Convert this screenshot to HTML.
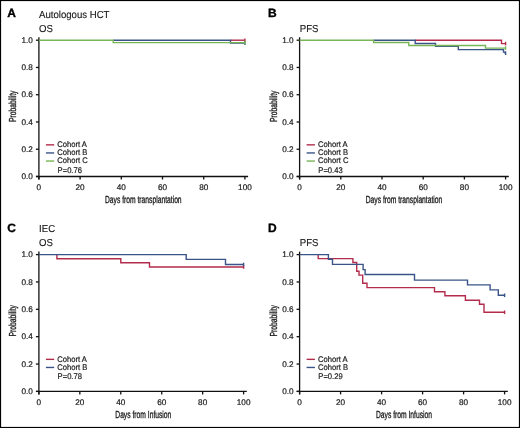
<!DOCTYPE html>
<html><head><meta charset="utf-8"><title>Figure</title>
<style>
html,body{margin:0;padding:0;background:#fff;}
#fig{position:relative;width:520px;height:428px;overflow:hidden;background:#fff;}
#fig svg{position:absolute;left:0;top:0;will-change:transform;}
text{font-family:"Liberation Sans",sans-serif;fill:#1a1a1a;text-rendering:geometricPrecision;}
.let{font-size:12px;font-weight:bold;fill:#000;stroke:#000;stroke-width:0.35px;}
.ttl{font-size:10.1px;stroke:#1a1a1a;stroke-width:0.15px;}
.tk{font-size:8.2px;stroke:#1a1a1a;stroke-width:0.2px;}
.lg{font-size:8.2px;stroke:#1a1a1a;stroke-width:0.2px;}
.at{font-size:10.2px;stroke:#1a1a1a;stroke-width:0.32px;}
.ax{stroke:#111;stroke-width:1.3;fill:none;}
</style></head>
<body><div id="fig">
<svg width="520" height="428" viewBox="0 0 520 428">
<rect x="0.5" y="0.5" width="519" height="427" fill="#fff" stroke="#000" stroke-width="1.2"/>
<text x="7.2" y="17.1" class="let">A</text>
<text x="0" y="0" class="ttl" transform="translate(39.1 17.7) scale(0.95 1)">Autologous HCT</text>
<text x="0" y="0" class="ttl" transform="translate(39.1 31.5) scale(0.95 1)">OS</text>
<path d="M38.9 37.2V179.5" class="ax"/>
<path d="M36 176.5H248.1" class="ax"/>
<path d="M35.9 176.5H38.9" class="ax"/>
<text x="0" y="0" class="tk" text-anchor="end" transform="translate(32.9 179.25)">0.0</text>
<path d="M35.9 149.24H38.9" class="ax"/>
<text x="0" y="0" class="tk" text-anchor="end" transform="translate(32.9 151.99)">0.2</text>
<path d="M35.9 121.98H38.9" class="ax"/>
<text x="0" y="0" class="tk" text-anchor="end" transform="translate(32.9 124.73)">0.4</text>
<path d="M35.9 94.72H38.9" class="ax"/>
<text x="0" y="0" class="tk" text-anchor="end" transform="translate(32.9 97.47)">0.6</text>
<path d="M35.9 67.46H38.9" class="ax"/>
<text x="0" y="0" class="tk" text-anchor="end" transform="translate(32.9 70.21)">0.8</text>
<path d="M35.9 40.2H38.9" class="ax"/>
<text x="0" y="0" class="tk" text-anchor="end" transform="translate(32.9 42.95)">1.0</text>
<path d="M38.9 176.5V179.5" class="ax"/>
<text x="0" y="0" class="tk" text-anchor="middle" transform="translate(38.9 189.7)">0</text>
<path d="M80.1 176.5V179.5" class="ax"/>
<text x="0" y="0" class="tk" text-anchor="middle" transform="translate(80.1 189.7)">20</text>
<path d="M121.3 176.5V179.5" class="ax"/>
<text x="0" y="0" class="tk" text-anchor="middle" transform="translate(121.3 189.7)">40</text>
<path d="M162.5 176.5V179.5" class="ax"/>
<text x="0" y="0" class="tk" text-anchor="middle" transform="translate(162.5 189.7)">60</text>
<path d="M203.7 176.5V179.5" class="ax"/>
<text x="0" y="0" class="tk" text-anchor="middle" transform="translate(203.7 189.7)">80</text>
<path d="M244.9 176.5V179.5" class="ax"/>
<text x="0" y="0" class="tk" text-anchor="middle" transform="translate(244.9 189.7)">100</text>
<text x="0" y="0" class="at" text-anchor="middle" transform="translate(143.3 203.4) scale(0.66 1)">Days from transplantation</text>
<text x="0" y="0" class="at" text-anchor="middle" transform="translate(16.2 106.3) rotate(-90) scale(0.66 1)">Probability</text>
<path d="M230.5 40.2H244.9" fill="none" stroke="#b32c4c" stroke-width="1.4"/>
<path d="M244.9 38.4V42" stroke="#b32c4c" stroke-width="1.4"/>
<path d="M113.2 40.2H230.5M230.5 43.1H244.9M230.5 39.5V43.8" fill="none" stroke="#3b5488" stroke-width="1.4"/>
<path d="M244.9 41.3V44.9" stroke="#3b5488" stroke-width="1.4"/>
<path d="M38.9 40.2H113.2M113.2 42.6H244.9M113.2 39.5V43.3" fill="none" stroke="#78b555" stroke-width="1.4"/>
<path d="M244.9 40.8V44.4" stroke="#78b555" stroke-width="1.4"/>
<path d="M45.9 144.85H54.2" stroke="#b32c4c" stroke-width="1.4"/>
<text x="0" y="0" class="lg" transform="translate(57.3 147.1) scale(0.93 1)">Cohort A</text>
<path d="M45.9 152.95H54.2" stroke="#3b5488" stroke-width="1.4"/>
<text x="0" y="0" class="lg" transform="translate(57.3 155.2) scale(0.93 1)">Cohort B</text>
<path d="M45.9 161.05H54.2" stroke="#78b555" stroke-width="1.4"/>
<text x="0" y="0" class="lg" transform="translate(57.3 163.3) scale(0.93 1)">Cohort C</text>
<text x="0" y="0" class="lg" transform="translate(57.6 172.5) scale(0.93 1)">P=0.76</text>
<text x="267.9" y="17.1" class="let">B</text>
<text x="0" y="0" class="ttl" transform="translate(299.8 31.5) scale(0.95 1)">PFS</text>
<path d="M299.6 37.2V179.5" class="ax"/>
<path d="M296.7 176.5H508.8" class="ax"/>
<path d="M296.6 176.5H299.6" class="ax"/>
<text x="0" y="0" class="tk" text-anchor="end" transform="translate(293.6 179.25)">0.0</text>
<path d="M296.6 149.24H299.6" class="ax"/>
<text x="0" y="0" class="tk" text-anchor="end" transform="translate(293.6 151.99)">0.2</text>
<path d="M296.6 121.98H299.6" class="ax"/>
<text x="0" y="0" class="tk" text-anchor="end" transform="translate(293.6 124.73)">0.4</text>
<path d="M296.6 94.72H299.6" class="ax"/>
<text x="0" y="0" class="tk" text-anchor="end" transform="translate(293.6 97.47)">0.6</text>
<path d="M296.6 67.46H299.6" class="ax"/>
<text x="0" y="0" class="tk" text-anchor="end" transform="translate(293.6 70.21)">0.8</text>
<path d="M296.6 40.2H299.6" class="ax"/>
<text x="0" y="0" class="tk" text-anchor="end" transform="translate(293.6 42.95)">1.0</text>
<path d="M299.6 176.5V179.5" class="ax"/>
<text x="0" y="0" class="tk" text-anchor="middle" transform="translate(299.6 189.7)">0</text>
<path d="M340.8 176.5V179.5" class="ax"/>
<text x="0" y="0" class="tk" text-anchor="middle" transform="translate(340.8 189.7)">20</text>
<path d="M382 176.5V179.5" class="ax"/>
<text x="0" y="0" class="tk" text-anchor="middle" transform="translate(382 189.7)">40</text>
<path d="M423.2 176.5V179.5" class="ax"/>
<text x="0" y="0" class="tk" text-anchor="middle" transform="translate(423.2 189.7)">60</text>
<path d="M464.4 176.5V179.5" class="ax"/>
<text x="0" y="0" class="tk" text-anchor="middle" transform="translate(464.4 189.7)">80</text>
<path d="M505.6 176.5V179.5" class="ax"/>
<text x="0" y="0" class="tk" text-anchor="middle" transform="translate(505.6 189.7)">100</text>
<text x="0" y="0" class="at" text-anchor="middle" transform="translate(404 203.4) scale(0.66 1)">Days from transplantation</text>
<text x="0" y="0" class="at" text-anchor="middle" transform="translate(276.9 106.3) rotate(-90) scale(0.66 1)">Probability</text>
<path d="M415.2 40.2H501.5M501.5 43.6H505.6M501.5 39.5V44.3" fill="none" stroke="#b32c4c" stroke-width="1.4"/>
<path d="M505.6 41.8V45.4" stroke="#b32c4c" stroke-width="1.4"/>
<path d="M373.6 40.2H415.2M415.2 43.5H435.5M435.5 46.2H458.3M458.3 49.6H503.5M503.5 52.1H505.3M505.3 53.2H505.6M415.2 39.5V44.2M435.5 42.8V46.9M458.3 45.5V50.3M503.5 48.9V52.8M505.3 51.4V53.9" fill="none" stroke="#3b5488" stroke-width="1.4"/>
<path d="M505.6 51.4V55" stroke="#3b5488" stroke-width="1.4"/>
<path d="M299.6 40.2H373.6M373.6 42.5H408.8M408.8 45.5H485.5M485.5 48.1H505.6M373.6 39.5V43.2M408.8 41.8V46.2M485.5 44.8V48.8" fill="none" stroke="#78b555" stroke-width="1.4"/>
<path d="M505.6 46.3V49.9" stroke="#78b555" stroke-width="1.4"/>
<path d="M306.6 144.85H314.9" stroke="#b32c4c" stroke-width="1.4"/>
<text x="0" y="0" class="lg" transform="translate(318 147.1) scale(0.93 1)">Cohort A</text>
<path d="M306.6 152.95H314.9" stroke="#3b5488" stroke-width="1.4"/>
<text x="0" y="0" class="lg" transform="translate(318 155.2) scale(0.93 1)">Cohort B</text>
<path d="M306.6 161.05H314.9" stroke="#78b555" stroke-width="1.4"/>
<text x="0" y="0" class="lg" transform="translate(318 163.3) scale(0.93 1)">Cohort C</text>
<text x="0" y="0" class="lg" transform="translate(318.3 172.5) scale(0.93 1)">P=0.43</text>
<text x="7.2" y="231.6" class="let">C</text>
<text x="0" y="0" class="ttl" transform="translate(39.1 232.2) scale(0.95 1)">IEC</text>
<text x="0" y="0" class="ttl" transform="translate(39.1 246) scale(0.95 1)">OS</text>
<path d="M38.9 251.6V394.4" class="ax"/>
<path d="M36 391.4H246.8" class="ax"/>
<path d="M35.9 391.4H38.9" class="ax"/>
<text x="0" y="0" class="tk" text-anchor="end" transform="translate(32.9 394.15)">0.0</text>
<path d="M35.9 364.04H38.9" class="ax"/>
<text x="0" y="0" class="tk" text-anchor="end" transform="translate(32.9 366.79)">0.2</text>
<path d="M35.9 336.68H38.9" class="ax"/>
<text x="0" y="0" class="tk" text-anchor="end" transform="translate(32.9 339.43)">0.4</text>
<path d="M35.9 309.32H38.9" class="ax"/>
<text x="0" y="0" class="tk" text-anchor="end" transform="translate(32.9 312.07)">0.6</text>
<path d="M35.9 281.96H38.9" class="ax"/>
<text x="0" y="0" class="tk" text-anchor="end" transform="translate(32.9 284.71)">0.8</text>
<path d="M35.9 254.6H38.9" class="ax"/>
<text x="0" y="0" class="tk" text-anchor="end" transform="translate(32.9 257.35)">1.0</text>
<path d="M38.9 391.4V394.4" class="ax"/>
<text x="0" y="0" class="tk" text-anchor="middle" transform="translate(38.9 404.6)">0</text>
<path d="M79.84 391.4V394.4" class="ax"/>
<text x="0" y="0" class="tk" text-anchor="middle" transform="translate(79.84 404.6)">20</text>
<path d="M120.78 391.4V394.4" class="ax"/>
<text x="0" y="0" class="tk" text-anchor="middle" transform="translate(120.78 404.6)">40</text>
<path d="M161.72 391.4V394.4" class="ax"/>
<text x="0" y="0" class="tk" text-anchor="middle" transform="translate(161.72 404.6)">60</text>
<path d="M202.66 391.4V394.4" class="ax"/>
<text x="0" y="0" class="tk" text-anchor="middle" transform="translate(202.66 404.6)">80</text>
<path d="M243.6 391.4V394.4" class="ax"/>
<text x="0" y="0" class="tk" text-anchor="middle" transform="translate(243.6 404.6)">100</text>
<text x="0" y="0" class="at" text-anchor="middle" transform="translate(143.3 418.3) scale(0.66 1)">Days from Infusion</text>
<text x="0" y="0" class="at" text-anchor="middle" transform="translate(16.2 320.8) rotate(-90) scale(0.66 1)">Probability</text>
<path d="M56.9 258.7H120.8M120.8 262.7H149.5M149.5 267H243.6M56.9 253.9V259.4M120.8 258V263.4M149.5 262V267.7" fill="none" stroke="#b32c4c" stroke-width="1.4"/>
<path d="M243.6 265.2V268.8" stroke="#b32c4c" stroke-width="1.4"/>
<path d="M38.9 254.6H186.2M186.2 259.4H225.5M225.5 264.5H243.6M186.2 253.9V260.1M225.5 258.7V265.2" fill="none" stroke="#3b5488" stroke-width="1.4"/>
<path d="M243.6 262.7V266.3" stroke="#3b5488" stroke-width="1.4"/>
<path d="M45.9 359.35H54.2" stroke="#b32c4c" stroke-width="1.4"/>
<text x="0" y="0" class="lg" transform="translate(57.3 361.6) scale(0.93 1)">Cohort A</text>
<path d="M45.9 367.45H54.2" stroke="#3b5488" stroke-width="1.4"/>
<text x="0" y="0" class="lg" transform="translate(57.3 369.7) scale(0.93 1)">Cohort B</text>
<text x="0" y="0" class="lg" transform="translate(57.6 378.9) scale(0.93 1)">P=0.78</text>
<text x="267.9" y="231.6" class="let">D</text>
<text x="0" y="0" class="ttl" transform="translate(299.8 246) scale(0.95 1)">PFS</text>
<path d="M299.6 251.6V394.4" class="ax"/>
<path d="M296.7 391.4H507.8" class="ax"/>
<path d="M296.6 391.4H299.6" class="ax"/>
<text x="0" y="0" class="tk" text-anchor="end" transform="translate(293.6 394.15)">0.0</text>
<path d="M296.6 364.04H299.6" class="ax"/>
<text x="0" y="0" class="tk" text-anchor="end" transform="translate(293.6 366.79)">0.2</text>
<path d="M296.6 336.68H299.6" class="ax"/>
<text x="0" y="0" class="tk" text-anchor="end" transform="translate(293.6 339.43)">0.4</text>
<path d="M296.6 309.32H299.6" class="ax"/>
<text x="0" y="0" class="tk" text-anchor="end" transform="translate(293.6 312.07)">0.6</text>
<path d="M296.6 281.96H299.6" class="ax"/>
<text x="0" y="0" class="tk" text-anchor="end" transform="translate(293.6 284.71)">0.8</text>
<path d="M296.6 254.6H299.6" class="ax"/>
<text x="0" y="0" class="tk" text-anchor="end" transform="translate(293.6 257.35)">1.0</text>
<path d="M299.6 391.4V394.4" class="ax"/>
<text x="0" y="0" class="tk" text-anchor="middle" transform="translate(299.6 404.6)">0</text>
<path d="M340.6 391.4V394.4" class="ax"/>
<text x="0" y="0" class="tk" text-anchor="middle" transform="translate(340.6 404.6)">20</text>
<path d="M381.6 391.4V394.4" class="ax"/>
<text x="0" y="0" class="tk" text-anchor="middle" transform="translate(381.6 404.6)">40</text>
<path d="M422.6 391.4V394.4" class="ax"/>
<text x="0" y="0" class="tk" text-anchor="middle" transform="translate(422.6 404.6)">60</text>
<path d="M463.6 391.4V394.4" class="ax"/>
<text x="0" y="0" class="tk" text-anchor="middle" transform="translate(463.6 404.6)">80</text>
<path d="M504.6 391.4V394.4" class="ax"/>
<text x="0" y="0" class="tk" text-anchor="middle" transform="translate(504.6 404.6)">100</text>
<text x="0" y="0" class="at" text-anchor="middle" transform="translate(404 418.3) scale(0.66 1)">Days from Infusion</text>
<text x="0" y="0" class="at" text-anchor="middle" transform="translate(276.9 320.8) rotate(-90) scale(0.66 1)">Probability</text>
<path d="M318.2 258.6H352.9M352.9 262.5H356.7M356.7 271.2H359M359 275.1H362.7M362.7 283.3H367M367 287.6H434.5M434.5 291.8H444.9M444.9 295.8H465.4M465.4 300.2H479.5M479.5 304.3H484M484 312.3H504.6M318.2 253.9V259.3M352.9 257.9V263.2M356.7 261.8V271.9M359 270.5V275.8M362.7 274.4V284M367 282.6V288.3M434.5 286.9V292.5M444.9 291.1V296.5M465.4 295.1V300.9M479.5 299.5V305M484 303.6V313" fill="none" stroke="#b32c4c" stroke-width="1.4"/>
<path d="M504.6 310.5V314.1" stroke="#b32c4c" stroke-width="1.4"/>
<path d="M299.6 254.6H328.4M328.4 259.2H332.5M332.5 264.4H363.1M363.1 269.6H365.1M365.1 274.5H414.5M414.5 280.1H467.5M467.5 284.9H490.1M490.1 289.9H498.3M498.3 295.3H504.6M328.4 253.9V259.9M332.5 258.5V265.1M363.1 263.7V270.3M365.1 268.9V275.2M414.5 273.8V280.8M467.5 279.4V285.6M490.1 284.2V290.6M498.3 289.2V296" fill="none" stroke="#3b5488" stroke-width="1.4"/>
<path d="M504.6 293.5V297.1" stroke="#3b5488" stroke-width="1.4"/>
<path d="M306.6 359.35H314.9" stroke="#b32c4c" stroke-width="1.4"/>
<text x="0" y="0" class="lg" transform="translate(318 361.6) scale(0.93 1)">Cohort A</text>
<path d="M306.6 367.45H314.9" stroke="#3b5488" stroke-width="1.4"/>
<text x="0" y="0" class="lg" transform="translate(318 369.7) scale(0.93 1)">Cohort B</text>
<text x="0" y="0" class="lg" transform="translate(318.3 378.9) scale(0.93 1)">P=0.29</text>
</svg></div></body></html>
